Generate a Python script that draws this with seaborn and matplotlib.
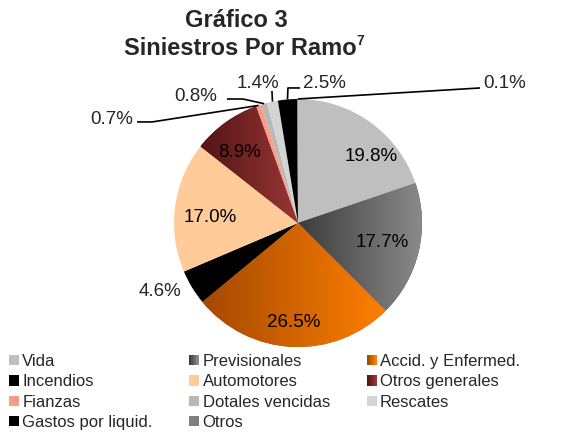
import matplotlib
matplotlib.use('Agg')
import numpy as np
import matplotlib.pyplot as plt
import seaborn as sns
from matplotlib.patches import Patch
from matplotlib.colors import LinearSegmentedColormap
from matplotlib.legend_handler import HandlerTuple

# === datos ===
ramos = ['Vida', 'Previsionales', 'Accid. y Enfermed.', 'Incendios', 'Automotores',
         'Otros generales', 'Fianzas', 'Dotales vencidas', 'Rescates',
         'Gastos por liquid.', 'Otros']
porcentajes = [19.8, 17.7, 26.5, 4.6, 17.0, 8.9, 0.7, 0.8, 1.4, 2.5, 0.1]

# colores (inicio, fin) del degradado horizontal de cada rebanada
colores = [('#bfbfbf', '#bfbfbf'), ('#3c3c3c', '#8c8c8c'), ('#a44800', '#ff8000'),
           ('#000000', '#000000'), ('#ffcc99', '#ffcc99'), ('#551414', '#993636'),
           ('#ff9b85', '#ff9b85'), ('#b8b8b8', '#b8b8b8'), ('#d4d4d4', '#d4d4d4'),
           ('#000000', '#000000'), ('#808080', '#808080')]

sns.set_theme(style='white')
plt.rcParams['font.family'] = ['Liberation Sans', 'DejaVu Sans']

W, H = 580, 434
CX, CY, R = 298, 223, 124  # centro y radio de la torta en pixeles

fig = plt.figure(figsize=(W / 100, H / 100), dpi=100)
fig.patch.set_facecolor('white')
ax = fig.add_axes([0, 0, 1, 1])

wedges, _ = ax.pie(porcentajes, colors=[c[0] for c in colores], startangle=90,
                   counterclock=False, radius=1,
                   wedgeprops=dict(linewidth=0))

# degradados
for w, (c0, c1) in zip(wedges, colores):
    if c0 == c1:
        continue
    v = w.get_path().vertices
    cmap = LinearSegmentedColormap.from_list('g', [c0, c1])
    im = ax.imshow(np.linspace(0, 1, 256)[None, :], cmap=cmap, aspect='auto',
                   extent=[v[:, 0].min(), v[:, 0].max(), v[:, 1].min(), v[:, 1].max()],
                   interpolation='bilinear', zorder=w.get_zorder() + 0.1)
    im.set_clip_path(w)

ax.set_xlim(-CX / R, (W - CX) / R)
ax.set_ylim((CY - H) / R, CY / R)
ax.set_aspect('equal')
ax.axis('off')


def mid_angle(w):
    return np.deg2rad((w.theta1 + w.theta2) / 2)


# etiquetas internas: (distancia, giro en grados)
internas = {0: (0.80, -12), 1: (0.70, 0), 2: (0.80, 0), 4: (0.71, 4), 5: (0.74, 4)}
for i, (d, giro) in internas.items():
    a = mid_angle(wedges[i]) + np.deg2rad(giro)
    ax.text(d * np.cos(a), d * np.sin(a), f'{porcentajes[i]:.1f}%',
            ha='center', va='center', fontsize=13.5, color='black')

# etiqueta externa sin linea
a = mid_angle(wedges[3])
ax.text(1.24 * np.cos(a - np.deg2rad(5)), 1.24 * np.sin(a - np.deg2rad(5)),
        f'{porcentajes[3]:.1f}%', ha='center', va='center', fontsize=13.5)

# etiquetas externas con linea guia: texto (x, y, ha), puntos de la guia
externas = {
    6: ((-1.331, 0.831, 'right'), [(-1.298, 0.815), (-1.177, 0.815)]),
    7: ((-0.653, 1.024, 'right'), [(-0.573, 1.000), (-0.444, 1.000)]),
    8: ((-0.323, 1.121, 'center'), [(-0.210, 1.065)]),
    9: ((0.040, 1.121, 'left'), [(0.016, 1.089), (-0.081, 1.089)]),
    10: ((1.492, 1.121, 'left'), [(1.468, 1.089)]),
}
for i, ((tx, ty, ha), guia) in externas.items():
    ax.text(tx, ty, f'{porcentajes[i]:.1f}%', ha=ha, va='center', fontsize=13.5)
    a = mid_angle(wedges[i])
    pts = np.array(guia + [(np.cos(a), np.sin(a))])
    ax.plot(pts[:, 0], pts[:, 1], color='black', lw=1.2, solid_capstyle='butt')

# titulo
fig.text(236 / W, 1 - 27 / H, 'Gráfico 3', ha='center', va='baseline',
         fontsize=17, fontweight='bold')
fig.text(240 / W, 1 - 55 / H, 'Siniestros Por Ramo', ha='center', va='baseline',
         fontsize=17, fontweight='bold')
fig.text(356 / W, 1 - 45 / H, '7', ha='left', va='baseline',
         fontsize=10, fontweight='bold')

# leyenda (en filas, como Excel)
handles = []
for c0, c1 in colores:
    if c0 == c1:
        handles.append(Patch(facecolor=c0, edgecolor='none'))
    else:
        cm = LinearSegmentedColormap.from_list('h', [c0, c1])
        handles.append(tuple(Patch(facecolor=cm(t), edgecolor='none')
                             for t in np.linspace(0, 1, 5)))
orden = [0, 3, 6, 9, 1, 4, 7, 10, 2, 5, 8]
fig.legend([handles[k] for k in orden], [ramos[k] for k in orden],
           handler_map={tuple: HandlerTuple(ndivide=None, pad=0)},
           loc='upper left', bbox_to_anchor=(9 / W, 1 - 354 / H), ncol=3,
           frameon=False, fontsize=12, handlelength=0.6, handleheight=0.6,
           handletextpad=0.2, columnspacing=2.2, labelspacing=0.32,
           borderpad=0, borderaxespad=0)

fig.savefig('out.png', dpi=100, facecolor='white')
